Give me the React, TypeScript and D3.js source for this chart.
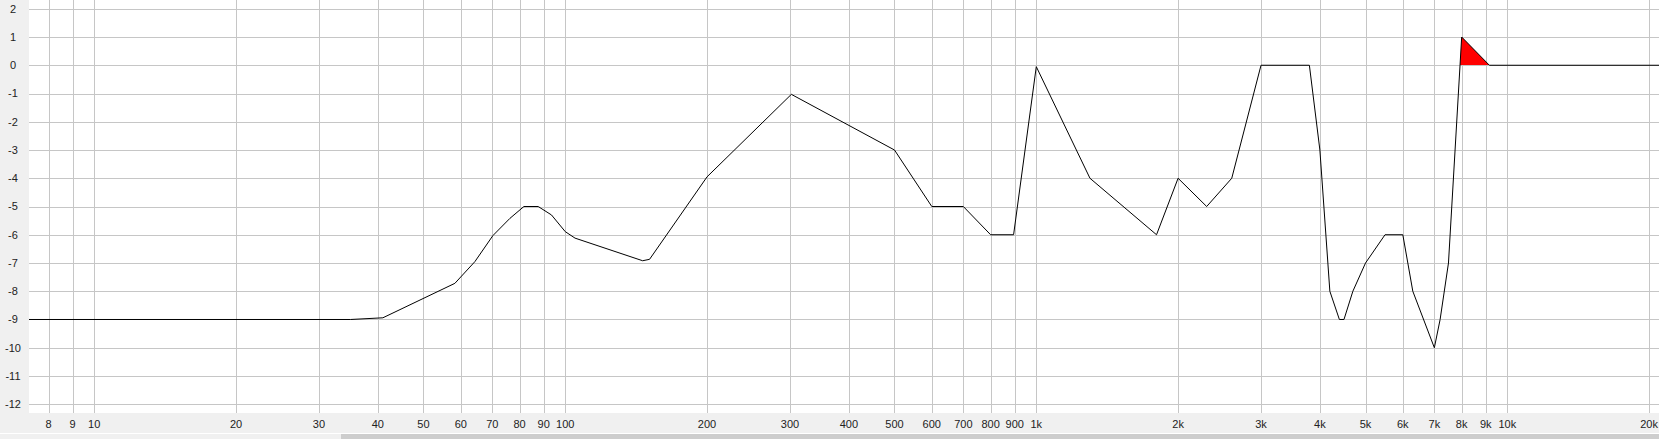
import React from "react";
import * as d3 from "d3";

const W = 1659;
const H = 439;

const freqs = [7.27, 35, 41, 58.3, 64.3, 70.2, 76.3, 81.7, 87.6, 93.5, 100, 104.9, 146, 151, 200, 302, 500, 600, 700, 800, 895, 1000, 1300, 1800, 2000, 2300, 2600, 3000, 3800, 4000, 4200, 4400, 4500, 4700, 5000, 5500, 6000, 6300, 7000, 7200, 7500, 8000, 9160, 20990];
const gains = [-9, -9, -8.94, -7.72, -6.95, -6.03, -5.42, -5.0, -5.0, -5.3, -5.89, -6.12, -6.92, -6.87, -3.95, -1.03, -3, -5, -5, -6, -6, -0.05, -4, -6, -4, -5, -4, 0, 0, -3, -8, -9, -9, -8, -7, -6, -6, -8, -10, -9, -7, 1, 0, 0];

const xTicks = [8, 9, 10, 20, 30, 40, 50, 60, 70, 80, 90, 100, 200, 300, 400, 500, 600, 700, 800, 900, 1000, 2000, 3000, 4000, 5000, 6000, 7000, 8000, 9000, 10000, 20000];
const yTicks = [2, 1, 0, -1, -2, -3, -4, -5, -6, -7, -8, -9, -10, -11, -12];

const PL = 29;
const PB = 413;

export default function App() {
  const x = d3.scaleLog().domain([7.27, 20990]).range([PL, W]);
  const y = d3.scaleLinear().domain([-12.31, 2.31]).range([PB, 0]);
  const pts = freqs.map((f, i) => [f, gains[i], i] as [number, number, number]);
  const line = d3.line<[number, number, number]>().x((d) => x(d[0])).y((d) => y(d[1]))(pts) || "";
  const nearPos = (i: number) =>
    gains[i] > 0 || (i > 0 && gains[i - 1] > 0) || (i < gains.length - 1 && gains[i + 1] > 0);
  const area = d3
    .area<[number, number, number]>()
    .defined((d) => nearPos(d[2]))
    .x((d) => x(d[0]))
    .y0(y(0))
    .y1((d) => y(d[1]))(pts) || "";
  const fmt = (f: number) => (f >= 1000 ? `${f / 1000}k` : `${f}`);
  const font = "'Liberation Sans', Arial, sans-serif";
  return (
    <div>
      <style>{`body{margin:0}`}</style>
      <svg width={W} height={H} style={{ display: "block" }}>
        <defs>
          <clipPath id="pos">
            <rect x={PL} y={0} width={W - PL} height={Math.floor(y(0))} />
          </clipPath>
          <clipPath id="plot">
            <rect x={PL} y={0} width={W - PL} height={PB} />
          </clipPath>
        </defs>
        <rect x={0} y={0} width={W} height={H} fill="#f0f0f0" />
        <rect x={PL} y={0} width={W - PL} height={PB} fill="#ffffff" />
        {xTicks.map((t) => (
          <line key={"gx" + t} x1={Math.round(x(t)) + 0.5} x2={Math.round(x(t)) + 0.5} y1={0} y2={PB} stroke="#c6c6c6" strokeWidth={1} />
        ))}
        {yTicks.map((t) => (
          <line key={"gy" + t} x1={PL} x2={W} y1={Math.round(y(t)) + 0.5} y2={Math.round(y(t)) + 0.5} stroke="#c6c6c6" strokeWidth={1} />
        ))}
        <g clipPath="url(#plot)">
          <path d={area} fill="#ff0000" clipPath="url(#pos)" />
          <path d={line} fill="none" stroke="#000" strokeWidth={1} />
        </g>
        {yTicks.map((t) => (
          <text key={"ly" + t} x={13} y={y(t)} dy="0.36em" textAnchor="middle" fontFamily={font} fontSize={11} fill="#222">
            {t}
          </text>
        ))}
        {xTicks.map((t) => (
          <text key={"lx" + t} x={x(t)} y={427.5} textAnchor="middle" fontFamily={font} fontSize={11} fill="#222">
            {fmt(t)}
          </text>
        ))}
        <rect x={0} y={433} width={W} height={1} fill="#ffffff" />
        <rect x={0} y={434} width={W} height={5} fill="#f0f0f0" />
        <rect x={341} y={434} width={W - 341} height={5} fill="#cdcdcd" />
      </svg>
    </div>
  );
}
